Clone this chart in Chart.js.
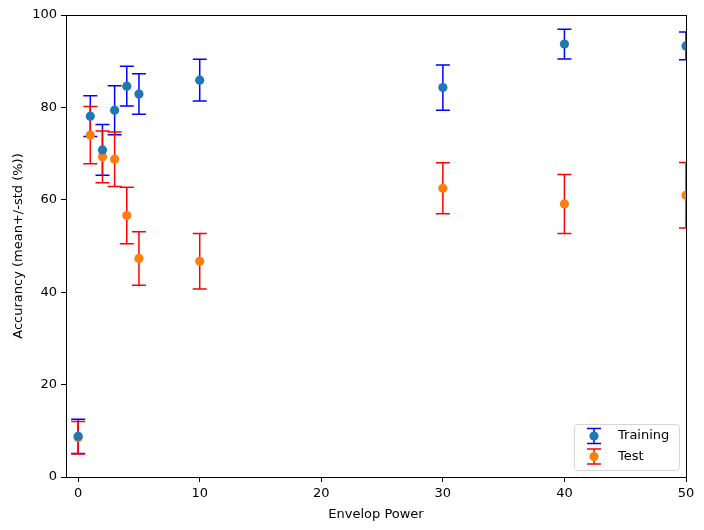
<!DOCTYPE html>
<html>
<head>
<meta charset="utf-8">
<script src="https://cdn.jsdelivr.net/npm/chart.js@4.4.1/dist/chart.umd.min.js"></script>
<style>
html, body { margin: 0; padding: 0; background: #fff; }
</style>
</head>
<body>
<canvas id="plot" width="704" height="530"></canvas>
<script>
const powers = [0, 1, 2, 3, 4, 5, 10, 30, 40, 50];
const trainMean = [8.8, 78.1, 70.8, 79.4, 84.6, 82.9, 85.9, 84.3, 93.7, 93.3];
const trainStd = [3.7, 4.4, 5.5, 5.3, 4.3, 4.4, 4.5, 4.9, 3.2, 3.0];
const testMean = [8.5, 74.0, 69.3, 68.8, 56.6, 47.3, 46.7, 62.5, 59.1, 61.0];
const testStd = [3.5, 6.2, 5.6, 5.9, 6.1, 5.8, 6.0, 5.5, 6.4, 7.1];
const xTicks = [0, 10, 20, 30, 40, 50];
const yTicks = [0, 20, 40, 60, 80, 100];

const capHalf = 7;
const markR = 4.6;

function points(ys)
{
	return powers.map((p, i) => ({ x: p, y: ys[i] }));
}

// vertical error bars with caps, under every marker
const errorBars =
{
	id: 'errorBars',
	beforeDatasetsDraw(chart)
	{
		const ctx = chart.ctx;
		const xs = chart.scales.x;
		const ys = chart.scales.y;
		const a = chart.chartArea;

		ctx.save();
		ctx.beginPath();
		ctx.rect(a.left, a.top, a.right - a.left, a.bottom - a.top);
		ctx.clip();
		ctx.lineWidth = 1.5;

		chart.data.datasets.forEach(function(ds)
		{
			ctx.strokeStyle = ds.barColor;
			ds.data.forEach(function(pt, i)
			{
				const px = xs.getPixelForValue(pt.x);
				const lo = ys.getPixelForValue(pt.y - ds.errors[i]);
				const hi = ys.getPixelForValue(pt.y + ds.errors[i]);

				ctx.beginPath();
				ctx.moveTo(px, lo);
				ctx.lineTo(px, hi);
				ctx.moveTo(px - capHalf, lo);
				ctx.lineTo(px + capHalf, lo);
				ctx.moveTo(px - capHalf, hi);
				ctx.lineTo(px + capHalf, hi);
				ctx.stroke();
			});
		});
		ctx.restore();
	}
};

// full box round the axes plus a legend in the lower right corner
const frameLegend =
{
	id: 'frameLegend',
	afterDraw(chart)
	{
		const ctx = chart.ctx;
		const a = chart.chartArea;

		ctx.save();
		ctx.strokeStyle = '#000';
		ctx.lineWidth = 1;
		ctx.strokeRect(Math.round(a.left) + 0.5, Math.round(a.top) + 0.5,
			Math.round(a.right - a.left), Math.round(a.bottom - a.top));

		const w = 105, h = 46;
		const bx = a.right - 7 - w;
		const by = a.bottom - 7 - h;

		ctx.fillStyle = 'rgba(255,255,255,0.8)';
		ctx.strokeStyle = '#d6d6d6';
		ctx.beginPath();
		ctx.roundRect(bx + 0.5, by + 0.5, w, h, 3);
		ctx.fill();
		ctx.stroke();

		ctx.font = '13px "DejaVu Sans"';
		ctx.textBaseline = 'middle';
		ctx.textAlign = 'left';

		chart.data.datasets.forEach(function(ds, k)
		{
			const cy = by + 12 + k * 20.5;
			const cx = bx + 20;

			ctx.strokeStyle = ds.barColor;
			ctx.lineWidth = 1.5;
			ctx.beginPath();
			ctx.moveTo(cx, cy - 7.5);
			ctx.lineTo(cx, cy + 7.5);
			ctx.moveTo(cx - capHalf, cy - 7.5);
			ctx.lineTo(cx + capHalf, cy - 7.5);
			ctx.moveTo(cx - capHalf, cy + 7.5);
			ctx.lineTo(cx + capHalf, cy + 7.5);
			ctx.stroke();

			ctx.fillStyle = ds.pointBackgroundColor;
			ctx.beginPath();
			ctx.arc(cx, cy, markR, 0, Math.PI * 2);
			ctx.fill();

			ctx.fillStyle = '#000';
			ctx.fillText(ds.label, bx + 44, cy);
		});
		ctx.restore();
	}
};

Chart.defaults.font.family = '"DejaVu Sans"';
Chart.defaults.font.size = 13;
Chart.defaults.color = '#000';

const ctx = document.getElementById('plot').getContext('2d');
const plot = new Chart(ctx,
{
	type: 'scatter',
	data:
	{
		datasets:
		[
			{
				label: 'Training',
				data: points(trainMean),
				errors: trainStd,
				barColor: '#0000ff',
				pointBackgroundColor: '#1f77b4',
				pointBorderWidth: 0,
				pointRadius: markR,
				clip: 0
			},
			{
				label: 'Test',
				data: points(testMean),
				errors: testStd,
				barColor: '#ff0000',
				pointBackgroundColor: '#ff7f0e',
				pointBorderWidth: 0,
				pointRadius: markR,
				clip: 0
			}
		]
	},
	options:
	{
		responsive: false,
		devicePixelRatio: 1,
		animation: false,
		layout: { padding: { top: 15, right: 18, left: 0, bottom: 0 } },
		plugins:
		{
			legend: { display: false },
			tooltip: { enabled: false }
		},
		scales:
		{
			x:
			{
				type: 'linear',
				min: -1,
				max: 50,
				afterBuildTicks: function(s) { s.ticks = xTicks.map(v => ({ value: v })); },
				afterFit: function(s) { s.height = 53; },
				grid: { drawOnChartArea: false, drawTicks: true, tickLength: 5, color: '#000' },
				border: { color: '#000', width: 1 },
				ticks: { padding: 4, maxRotation: 0 },
				title: { display: true, text: 'Envelop Power', padding: { top: 2, bottom: 8 } }
			},
			y:
			{
				type: 'linear',
				min: 0,
				max: 100,
				afterBuildTicks: function(s) { s.ticks = yTicks.map(v => ({ value: v })); },
				afterFit: function(s) { s.width = 66; },
				grid: { drawOnChartArea: false, drawTicks: true, tickLength: 5, color: '#000' },
				border: { color: '#000', width: 1 },
				ticks: { padding: 4 },
				title: { display: true, text: 'Accurancy (mean+/-std (%))', padding: { top: 11, bottom: 2 } }
			}
		}
	},
	plugins: [errorBars, frameLegend]
});
</script>
</body>
</html>
